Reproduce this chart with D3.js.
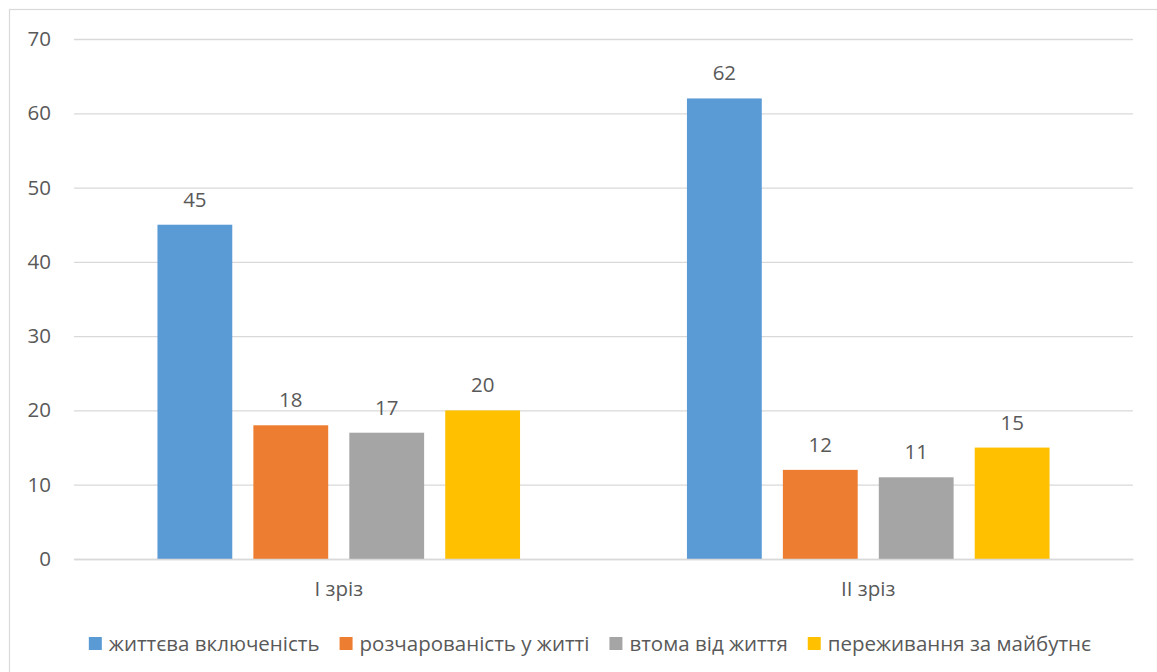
<!DOCTYPE html>
<html>
<head>
<meta charset="utf-8">
<script src="https://cdn.jsdelivr.net/npm/d3@7/dist/d3.min.js"></script>
<style>
  html, body { margin: 0; padding: 0; background: #fff; }
  svg { display: block; }
  text { font-family: "Open Sans", "Noto Sans", sans-serif; fill: #595959; }
</style>
</head>
<body>
<svg id="chart" width="1157" height="672"></svg>
<script>
// Survey slices (x axis groups)
const categories = ["I зріз", "II зріз"];
// Series names shown in the legend
const seriesNames = ["життєва включеність", "розчарованість у житті", "втома від життя", "переживання за майбутнє"];
// Values per series, one entry per slice
const vitalInvolvement = [45, 62];
const disappointment = [18, 12];
const lifeFatigue = [17, 11];
const futureWorry = [20, 15];
// Y axis ticks
const yTicks = [0, 10, 20, 30, 40, 50, 60, 70];

const seriesValues = [vitalInvolvement, disappointment, lifeFatigue, futureWorry];
const colors = ["#5B9BD5", "#ED7D31", "#A5A5A5", "#FFC000"];
const FONT = 20.5;

const svg = d3.select("#chart");
const W = 1157, H = 672;
const plot = { left: 74, right: 1133, top: 39, bottom: 559 };

// outer frame
svg.append("rect")
  .attr("x", 9.5).attr("y", 9.5)
  .attr("width", W - 9).attr("height", H)
  .attr("fill", "none").attr("stroke", "#D9D9D9").attr("stroke-width", 1.2);

const y = d3.scaleLinear().domain([0, 70]).range([plot.bottom, plot.top]);
const x0 = d3.scaleBand().domain(categories).range([plot.left, plot.right]).padding(0);
const x1 = d3.scaleBand().domain(d3.range(seriesNames.length))
  .range([0, x0.bandwidth()]).paddingInner(0.22).paddingOuter(0.87);

// horizontal grid lines
const yAxis = d3.axisLeft(y).tickValues(yTicks).tickSize(0).tickPadding(23)
  .tickFormat(d3.format("d"));
const gy = svg.append("g").attr("transform", `translate(${plot.left},0)`).call(yAxis);
gy.select(".domain").remove();
gy.selectAll(".tick text").attr("font-size", FONT).style("fill", "#595959")
  .attr("font-family", "Open Sans, Noto Sans, sans-serif");
gy.selectAll(".tick").append("line")
  .attr("x1", 0).attr("x2", plot.right - plot.left)
  .attr("stroke", "#D9D9D9").attr("stroke-width", 1.3);

// bars
const groups = svg.append("g").selectAll("g")
  .data(categories)
  .join("g")
  .attr("transform", d => `translate(${x0(d)},0)`);

groups.selectAll("rect")
  .data((c, ci) => seriesValues.map((vals, si) => ({ si, v: vals[ci] })))
  .join("rect")
  .attr("x", d => x1(d.si))
  .attr("width", x1.bandwidth())
  .attr("y", d => y(d.v))
  .attr("height", d => y(0) - y(d.v))
  .attr("fill", d => colors[d.si]);

// value labels
groups.selectAll("text.val")
  .data((c, ci) => seriesValues.map((vals, si) => ({ si, v: vals[ci] })))
  .join("text")
  .attr("class", "val")
  .attr("x", d => x1(d.si) + x1.bandwidth() / 2)
  .attr("y", d => y(d.v) - 18)
  .attr("text-anchor", "middle")
  .attr("font-size", FONT)
  .text(d => d.v);

// category labels
const xAxis = d3.axisBottom(x0).tickSize(0).tickPadding(0);
const gx = svg.append("g").attr("transform", `translate(0,${plot.bottom})`).call(xAxis);
gx.select(".domain").attr("stroke", "#D9D9D9").attr("stroke-width", 1.3);
gx.selectAll(".tick text")
  .attr("y", 37).attr("dy", 0)
  .attr("font-size", FONT).style("fill", "#595959")
  .attr("font-family", "Open Sans, Noto Sans, sans-serif");

// legend
const legend = svg.append("g");
const items = legend.selectAll("g").data(seriesNames).join("g");
items.append("rect")
  .attr("width", 13).attr("height", 13)
  .attr("y", 637)
  .attr("fill", (d, i) => colors[i]);
items.append("text")
  .attr("x", 20).attr("y", 650.5)
  .attr("font-size", FONT)
  .text(d => d);
let widths = [];
items.each(function () {
  widths.push(20 + d3.select(this).select("text").node().getComputedTextLength());
});
const gap = 20;
const total = d3.sum(widths) + gap * (widths.length - 1);
let cursor = 590 - total / 2;
items.attr("transform", (d, i) => {
  const t = `translate(${cursor},0)`;
  cursor += widths[i] + gap;
  return t;
});
</script>
</body>
</html>
